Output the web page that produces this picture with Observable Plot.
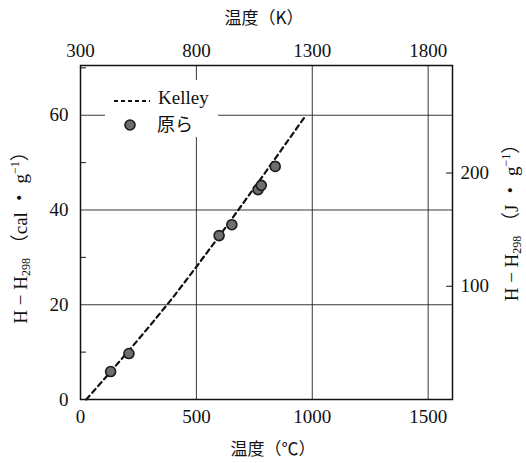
<!DOCTYPE html>
<html>
<head>
<meta charset="utf-8">
<script src="https://cdn.jsdelivr.net/npm/d3@7"></script>
<script src="https://cdn.jsdelivr.net/npm/@observablehq/plot@0.6"></script>
<style>
  html, body { margin: 0; padding: 0; background: white; }
</style>
</head>
<body>
<div id="chart"></div>
<script>
// ---- data ----
const kelleyC = [25, 100, 200, 300, 400, 500, 600, 700, 800, 900, 970];
const kelleyH = [0, 4.2, 9.8, 15.6, 21.6, 28.0, 34.6, 41.3, 48.1, 55.0, 59.8];
const haraC = [130, 209, 598, 653, 766, 780, 840];
const haraH = [5.9, 9.7, 34.6, 36.9, 44.3, 45.2, 49.2];
const xTicks = [0, 500, 1000, 1500];
const kTickOffset = 300;           // top axis labels 300, 800, 1300, 1800
const yTicks = [0, 20, 40, 60];
const yMinor = [10, 30, 50, 70];
const jTicks = [100, 200];
const CAL_TO_J = 4.184;
const seriesNames = ["Kelley", "原ら"];

const kelley = kelleyC.map((c, i) => ({c, h: kelleyH[i]}));
const hara = haraC.map((c, i) => ({c, h: haraH[i]}));

const serif = "'Liberation Serif', 'Noto Sans CJK JP', serif";
const cjk = "'Noto Sans CJK JP', 'Liberation Serif', sans-serif";

const inwardLeft = {draw(ctx, l) { ctx.moveTo(0, 0); ctx.lineTo(l, 0); }};
const inwardRight = {draw(ctx, l) { ctx.moveTo(0, 0); ctx.lineTo(-l, 0); }};

const plot = Plot.plot({
  width: 526,
  height: 463,
  marginLeft: 80,
  marginRight: 74,
  marginTop: 65,
  marginBottom: 64,
  style: {fontFamily: serif, fontSize: "19px", color: "#111", background: "white"},
  x: {domain: [0, 1605]},
  y: {domain: [0, 70.5]},
  marks: [
    Plot.gridX(xTicks.slice(1), {stroke: "#222", strokeOpacity: 1, strokeWidth: 0.9}),
    Plot.gridY(yTicks.slice(1), {stroke: "#222", strokeOpacity: 1, strokeWidth: 0.9}),
    Plot.vector(yMinor, {y: d => d, frameAnchor: "left", length: 5, anchor: "start", shape: inwardLeft, stroke: "#111", strokeWidth: 1}),
    Plot.vector(jTicks.map(j => j / CAL_TO_J), {y: d => d, frameAnchor: "right", length: 6, anchor: "start", shape: inwardRight, stroke: "#111", strokeWidth: 1}),
    Plot.axisX(xTicks, {anchor: "bottom", tickSize: 0, tickPadding: 10, label: null, fontSize: 19, tickFormat: d => String(d)}),
    Plot.axisX(xTicks, {anchor: "top", tickSize: 0, tickPadding: 9, label: null, fontSize: 19, tickFormat: d => String(d + kTickOffset)}),
    Plot.axisY(yTicks, {anchor: "left", tickSize: 0, tickPadding: 12, label: null, fontSize: 19, tickFormat: d => String(d)}),
    Plot.axisY(jTicks.map(j => j / CAL_TO_J), {anchor: "right", tickSize: 0, tickPadding: 8, label: null, fontSize: 19, tickFormat: d => String(Math.round(d * CAL_TO_J))}),
    Plot.line(kelley, {x: "c", y: "h", stroke: "#111", strokeWidth: 2.2, strokeDasharray: "5,4"}),
    Plot.dot(hara, {x: "c", y: "h", r: 5, fill: "#6e6e6e", stroke: "#1a1a1a", strokeWidth: 1.6}),
    Plot.frame({stroke: "#111", strokeWidth: 1.5})
  ]
});

document.getElementById("chart").appendChild(plot);

const svg = d3.select(plot);

// legend
const lg = svg.append("g").attr("text-anchor", "start");
lg.append("rect").attr("x", 105).attr("y", 80).attr("width", 113).attr("height", 57).attr("fill", "white");
lg.append("line").attr("x1", 114).attr("x2", 150).attr("y1", 101).attr("y2", 101)
  .attr("stroke", "#111").attr("stroke-width", 2).attr("stroke-dasharray", "4,3");
lg.append("text").attr("x", 158).attr("y", 100).attr("dominant-baseline", "middle").attr("text-anchor", "start")
  .style("font-family", serif).style("font-size", "19px").attr("fill", "#111").text(seriesNames[0]);
lg.append("circle").attr("cx", 130).attr("cy", 125).attr("r", 5)
  .attr("fill", "#6e6e6e").attr("stroke", "#1a1a1a").attr("stroke-width", 1.6);
lg.append("text").attr("x", 157).attr("y", 126).attr("dominant-baseline", "middle").attr("text-anchor", "start")
  .style("font-family", cjk).style("font-size", "18px").attr("fill", "#111").text(seriesNames[1]);

// axis titles
svg.append("text").attr("x", 264).attr("y", 19).attr("text-anchor", "middle").attr("dominant-baseline", "middle")
  .style("font-family", cjk).style("font-size", "17px").attr("fill", "#111").text("温度（K）");
svg.append("text").attr("x", 273).attr("y", 450).attr("text-anchor", "middle").attr("dominant-baseline", "middle")
  .style("font-family", cjk).style("font-size", "17px").attr("fill", "#111").text("温度（℃）");

function yTitle(x, y, unit) {
  const t = svg.append("text").attr("transform", `translate(${x},${y}) rotate(-90)`)
    .attr("text-anchor", "middle").attr("dominant-baseline", "middle")
    .style("font-family", serif).style("font-size", "19px").attr("fill", "#111");
  t.append("tspan").text("H − H");
  t.append("tspan").attr("dy", 4).style("font-size", "12px").text("298");
  t.append("tspan").attr("dy", -4).text(" （" + unit + " ・ g");
  t.append("tspan").attr("dy", -7).style("font-size", "12px").text("−1");
  t.append("tspan").attr("dy", 7).text("）");
}
yTitle(23, 233, "cal");
yTitle(514, 218, "J");
</script>
</body>
</html>
